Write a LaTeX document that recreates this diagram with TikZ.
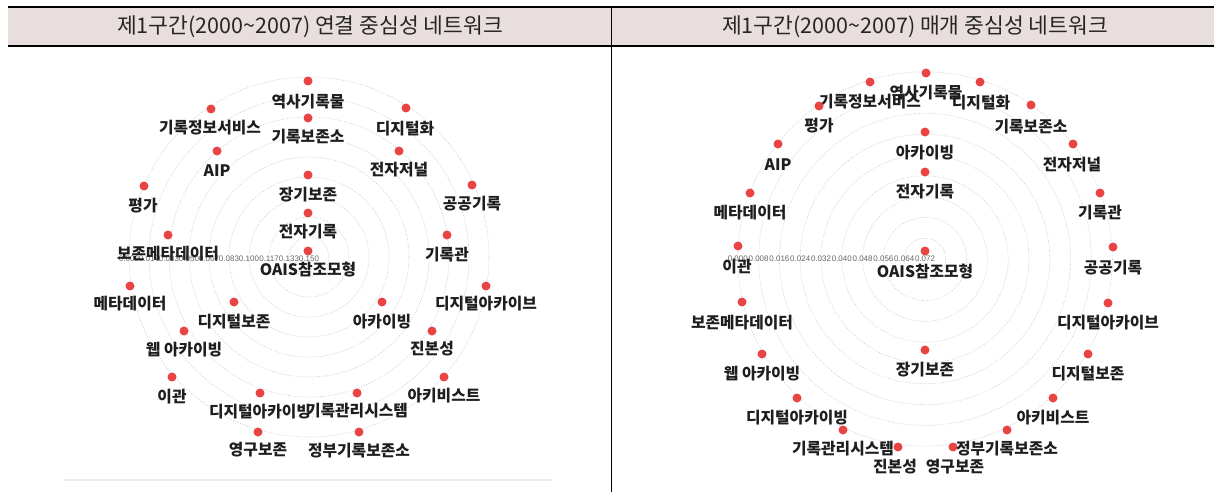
\documentclass[tikz,border=0pt]{standalone}
\usepackage{fontspec}
\newfontfamily\kr{Noto Sans CJK KR}
\setmainfont{Liberation Sans}
\definecolor{dotred}{RGB}{232,68,68}
\definecolor{headfill}{RGB}{232,222,222}
\definecolor{labtext}{RGB}{30,30,30}
\tikzset{
  dotn/.style={circle, fill=dotred, inner sep=0pt, minimum size=9pt},
  lab/.style={font=\kr\bfseries\fontsize{15.8}{17}\selectfont, inner sep=0pt, text=labtext},
  ring/.style={draw=gray!40, dash pattern=on 1pt off 1.5pt, line width=0.6pt},
  tick/.style={font=\fontsize{8}{9}\selectfont, text=gray!80!black, inner sep=0pt},
  head/.style={font=\kr\fontsize{21.5}{24}\selectfont, inner sep=0pt, text=black!85},
}
\begin{document}
\begin{tikzpicture}[x=1pt,y=-1pt]
\useasboundingbox (0,0) rectangle (1214,492);
\fill[white] (0,0) rectangle (1214,492);
% header
\fill[headfill] (8,7) rectangle (1214,46);
\draw[line width=2pt] (8,7) -- (1214,7);
\draw[line width=1.8pt] (8,46) -- (1214,46);
\draw[line width=1pt] (611,7) -- (611,492);
\draw[gray!15, line width=2pt] (65,480) -- (552,480);
\node[head] (h1) at (310,27) {제1구간(2000\textasciitilde2007) 연결 중심성 네트워크};
\node[head] (h2) at (915,27) {제1구간(2000\textasciitilde2007) 매개 중심성 네트워크};
% left rings
\coordinate (lc) at (309,257);
\foreach \r in {20,40,...,180} \draw[ring] (lc) circle[radius=\r];
\foreach \v [count=\i from 0] in {0.000,0.017,0.033,0.050,0.067,0.083,0.100,0.117,0.133,0.150}
  \node[tick] (lt\i) at (309-180+\i*20,259) {\v};
% right rings
\coordinate (rc) at (925,259);
\foreach \r in {20.8,41.6,62.4,83.2,104,124.8,145.6,166.4,187.2} \draw[ring] (rc) circle[radius=\r];
\foreach \v [count=\i from 0] in {0.000,0.008,0.016,0.024,0.032,0.040,0.048,0.056,0.064,0.072}
  \node[tick] (rt\i) at (925-187.2+\i*20.8,259) {\v};
% left nodes
\foreach \n/\dx/\dy/\lx/\ly/\t in {
  l1/308/81/308/102/역사기록물,
  l2/308/118/308/137/기록보존소,
  l3/211/109/210/128/기록정보서비스,
  l4/217/151/217/171/AIP,
  l5/144/186/143/206/평가,
  l6/308/175/308/195/장기보존,
  l7/308/213/308/232/전자기록,
  l8/168/235/168/254/보존메타데이터,
  l9/406/108/405/129/디지털화,
  l10/399/151/399/170/전자저널,
  l11/472/185/472/204/공공기록,
  l12/447/235/447/255/기록관,
  l13/308/251/308/270/OAIS참조모형,
  l14/130/286/130/304/메타데이터,
  l15/234/302/234/322/디지털보존,
  l16/184/331/184/350/웹 아카이빙,
  l17/486/286/486/304/디지털아카이브,
  l18/382/302/382/322/아카이빙,
  l19/432/331/432/349/진본성,
  l20/444/377/444/396/아키비스트,
  l21/357/393/357/411/기록관리시스템,
  l22/359/432/359/451/정부기록보존소,
  l23/172/377/172/397/이관,
  l24/260/393/260/412/디지털아카이빙,
  l25/258/432/258/450/영구보존}
{
  \node[dotn] (\n d) at (\dx,\dy) {};
  \node[lab] (\n t) at (\lx,\ly) {\t};
}
% right nodes
\foreach \n/\dx/\dy/\lx/\ly/\t in {
  r1/926/73/926/93/역사기록물,
  r2/870/82/870/102/기록정보서비스,
  r3/819/106/819/126/평가,
  r4/778/144/778/165/AIP,
  r5/750/193/750/213/메타데이터,
  r6/980/82/981/103/디지털화,
  r7/925/132/925/153/아카이빙,
  r8/925/172/925/192/전자기록,
  r9/1031/105/1031/127/기록보존소,
  r10/1073/144/1072/165/전자저널,
  r11/1100/193/1100/213/기록관,
  r12/1113/247/1113/268/공공기록,
  r13/1108/303/1108/323/디지털아카이브,
  r14/738/246/737/267/이관,
  r15/925/251/925/272/OAIS참조모형,
  r16/742/302/742/323/보존메타데이터,
  r17/762/354/762/374/웹 아카이빙,
  r18/925/350/925/370/장기보존,
  r19/1088/354/1088/374/디지털보존,
  r20/797/398/797/418/디지털아카이빙,
  r21/1053/398/1053/418/아키비스트,
  r22/843/430/843/449/기록관리시스템,
  r23/898/447/895/467/진본성,
  r24/953/447/955/467/영구보존,
  r25/1007/430/1007/449/정부기록보존소}
{
  \node[dotn] (\n d) at (\dx,\dy) {};
  \node[lab] (\n t) at (\lx,\ly) {\t};
}
\end{tikzpicture}
\end{document}
